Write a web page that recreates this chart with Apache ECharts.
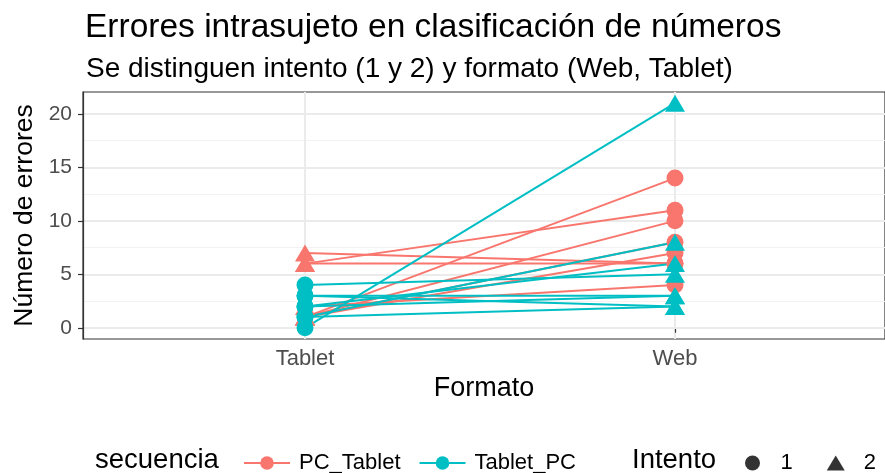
<!DOCTYPE html>
<html>
<head>
<meta charset="utf-8">
<script src="https://cdn.jsdelivr.net/npm/echarts@6/dist/echarts.min.js"></script>
<style>
html, body { margin: 0; padding: 0; background: #fff; }
#chart1 { width: 885px; height: 473px; }
</style>
</head>
<body>
<div id="chart1"></div>
<script>
// datos (un sujeto por posicion)
var formatos = ['Tablet', 'Web'];
var pcTabletTablet = [1, 6, 1, 1, 1, 7, 6, 2];
var pcTabletWeb = [14, 11, 10, 8, 7, 6, 6, 4];
var tabletPcTablet = [0, 4, 2, 1, 3, 2, 1, 3];
var tabletPcWeb = [21, 5, 6, 8, 3, 3, 2, 2];
var yTicks = [0, 5, 10, 15, 20];
var yMinor = [2.5, 7.5, 12.5, 17.5];

var fuente = '"Liberation Sans", Arial, sans-serif';
var rojo = '#F8766D';
var verde = '#00BFC4';

var myChart1 = echarts.init(document.getElementById('chart1'));

function simbolo(intento) {
    return intento === 1 ? 'circle' : 'triangle';
}
function tamano(intento) {
    return intento === 1 ? 17 : [20, 17];
}

var series = [];
function addSujetos(nombre, color, tablet, web, intentoTablet, intentoWeb) {
    for (var i = 0; i < tablet.length; i++) {
        series.push({
            type: 'line',
            name: nombre,
            xAxisIndex: 0,
            yAxisIndex: 0,
            color: color,
            symbol: 'circle',
            symbolSize: 17,
            lineStyle: { width: 2, color: color },
            itemStyle: { color: color },
            emphasis: { disabled: true },
            animation: false,
            clip: false,
            data: [
                { value: [1, tablet[i]], symbol: simbolo(intentoTablet), symbolSize: tamano(intentoTablet) },
                { value: [2, web[i]], symbol: simbolo(intentoWeb), symbolSize: tamano(intentoWeb) }
            ]
        });
    }
}
// PC_Tablet: primero Web (intento 1), luego Tablet (intento 2)
addSujetos('PC_Tablet', rojo, pcTabletTablet, pcTabletWeb, 2, 1);
// Tablet_PC: primero Tablet (intento 1), luego Web (intento 2)
addSujetos('Tablet_PC', verde, tabletPcTablet, tabletPcWeb, 1, 2);

// series vacias solo para la leyenda de intento
series.push({ type: 'scatter', name: '1', symbol: 'circle', symbolSize: 14, itemStyle: { color: '#000' }, data: [] });
series.push({ type: 'scatter', name: '2', symbol: 'triangle', symbolSize: [17, 15], itemStyle: { color: '#000' }, data: [] });

myChart1.setOption({
    animation: false,
    textStyle: { fontFamily: fuente },
    title: [
        {
            text: 'Errores intrasujeto en clasificación de números',
            left: 80,
            top: 6,
            textStyle: { fontSize: 33.5, fontWeight: 'normal', color: '#000', fontFamily: fuente }
        },
        {
            text: 'Se distinguen intento (1 y 2) y formato (Web, Tablet)',
            left: 81,
            top: 50,
            textStyle: { fontSize: 28, fontWeight: 'normal', color: '#000', fontFamily: fuente }
        }
    ],
    grid: {
        left: 83,
        top: 92,
        right: 0,
        bottom: 134,
        show: true,
        borderColor: '#333333',
        borderWidth: 1.2
    },
    legend: [
        {
            data: ['PC_Tablet', 'Tablet_PC'],
            left: 238,
            top: 447,
            itemWidth: 46,
            itemHeight: 17,
            itemGap: 18,
            selectedMode: false,
            textStyle: { fontSize: 22, color: '#000', fontFamily: fuente, padding: [0, 0, 0, 4] }
        },
        {
            data: ['1', '2'],
            left: 745,
            top: 452,
            padding: 0,
            width: 140,
            itemWidth: 18,
            itemHeight: 15,
            itemGap: 34,
            selectedMode: false,
            textStyle: { fontSize: 22, color: '#000', fontFamily: fuente, padding: [0, 0, 0, 14] }
        }
    ],
    graphic: [
        { type: 'text', left: 95, top: 446, style: { text: 'secuencia', fontSize: 27.5, fill: '#000', fontFamily: fuente } },
        { type: 'text', left: 632, top: 446, style: { text: 'Intento', fontSize: 27.5, fill: '#000', fontFamily: fuente } }
    ],
    xAxis: {
        type: 'value',
        min: 0.4,
        max: 2.5676,
        name: 'Formato',
        nameLocation: 'middle',
        nameGap: 36,
        nameTextStyle: { fontSize: 27, color: '#000', fontFamily: fuente },
        axisLine: { show: true, lineStyle: { color: '#333333', width: 1.2 } },
        axisTick: { show: true, customValues: [1, 2], length: 5, lineStyle: { color: '#333333', width: 1.2 } },
        axisLabel: {
            customValues: [1, 2],
            fontSize: 22,
            color: '#4D4D4D',
            margin: 9,
            formatter: function (v) { return formatos[Math.round(v) - 1]; }
        },
        splitLine: { show: true, lineStyle: { color: '#EBEBEB', width: 2 } }
    },
    yAxis: [
        {
            type: 'value',
            min: -1.05,
            max: 22.05,
            name: 'Número de errores',
            nameLocation: 'middle',
            nameRotate: 90,
            nameGap: 42,
            nameTextStyle: { fontSize: 26.5, color: '#000', fontFamily: fuente },
            axisLine: { show: true, lineStyle: { color: '#333333', width: 1.2 } },
            axisTick: { show: true, customValues: yTicks, length: 5, lineStyle: { color: '#333333', width: 1.2 } },
            axisLabel: { customValues: yTicks, fontSize: 21, color: '#4D4D4D', margin: 11 },
            splitLine: { show: true, lineStyle: { color: '#EBEBEB', width: 2 } },
            z: 1
        },
        {
            type: 'value',
            position: 'left',
            min: -1.05,
            max: 22.05,
            axisLine: { show: false },
            axisTick: { show: false, customValues: yMinor },
            axisLabel: { show: false, customValues: yMinor },
            splitLine: { show: true, lineStyle: { color: '#F2F2F2', width: 1 } },
            z: 0
        }
    ],
    series: series
});

window.onresize = function () {
    myChart1.resize();
};
</script>
</body>
</html>
